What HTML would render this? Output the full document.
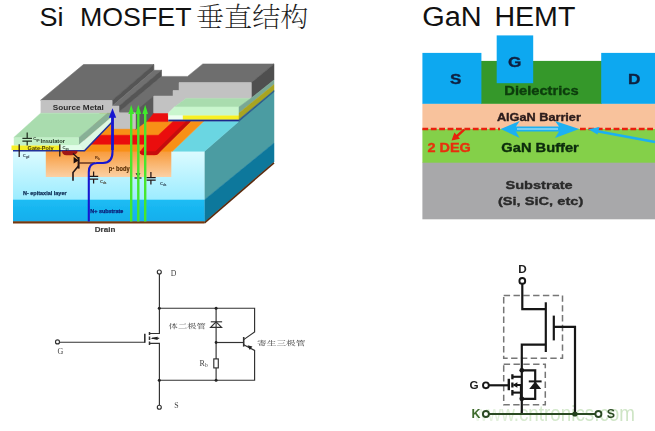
<!DOCTYPE html>
<html lang="zh">
<head>
<meta charset="utf-8">
<title>Si MOSFET vs GaN HEMT</title>
<style>
html,body{margin:0;padding:0;background:#fff;}
body{width:655px;height:431px;overflow:hidden;position:relative;font-family:"Liberation Sans","Noto Sans CJK SC",sans-serif;}
svg{position:absolute;left:0;top:0;display:block;}
.sans{font-family:"Liberation Sans","Noto Sans CJK SC",sans-serif;}
.b{font-weight:bold;}
.song{font-family:"Liberation Serif","Noto Serif CJK SC",serif;}
</style>
</head>
<body>
<svg width="655" height="431" viewBox="0 0 655 431">
<defs>
  <linearGradient id="gPbody" x1="0" y1="0" x2="0" y2="1">
    <stop offset="0" stop-color="#f89a3a"/>
    <stop offset="1" stop-color="#fbd0a4"/>
  </linearGradient>
  <linearGradient id="gEpi" x1="0" y1="0" x2="0" y2="1">
    <stop offset="0" stop-color="#dcfbff"/>
    <stop offset="1" stop-color="#9cecff"/>
  </linearGradient>
  <linearGradient id="gSub" x1="0" y1="0" x2="0" y2="1">
    <stop offset="0" stop-color="#1cbcf4"/>
    <stop offset="1" stop-color="#14aeec"/>
  </linearGradient>
  <linearGradient id="gWm" x1="474" y1="0" x2="635" y2="0" gradientUnits="userSpaceOnUse">
    <stop offset="0" stop-color="#eef6ea"/>
    <stop offset="0.3" stop-color="#d6eace"/>
    <stop offset="1" stop-color="#cde4c4"/>
  </linearGradient>
  <filter id="soft" x="-5%" y="-5%" width="110%" height="110%"><feGaussianBlur stdDeviation="0.35"/></filter>
</defs>

<!-- ================= TITLES ================= -->
<g class="sans" fill="#111" font-size="26.5">
  <text x="39.4" y="25.9" textLength="24" lengthAdjust="spacingAndGlyphs">Si</text>
  <text x="80" y="25.9" textLength="111.5" lengthAdjust="spacingAndGlyphs">MOSFET</text>
  <text x="196" y="27.3" class="song" font-size="27.5" font-weight="200" fill="#1c1c1c" textLength="112.5" lengthAdjust="spacingAndGlyphs">垂直结构</text>
  <text x="422.2" y="26" font-size="27" textLength="59.5" lengthAdjust="spacingAndGlyphs">GaN</text>
  <text x="494.4" y="26" font-size="27" textLength="81" lengthAdjust="spacingAndGlyphs">HEMT</text>
</g>

<!-- ================= 3D MOSFET STRUCTURE ================= -->
<g id="mos3d" filter="url(#soft)">
  <!-- right side faces of the block -->
  <polygon points="204.5,151.3 274,90.6 274,143 204.5,199.7" fill="#4c9ca2" stroke="#4c9ca2" stroke-width="0.5" stroke-linejoin="round"/>
  <polygon points="204.5,199.7 274,143 274,162 204.5,222" fill="#10789c" stroke="#10789c" stroke-width="0.5" stroke-linejoin="round"/>
  <line x1="204.5" y1="222.8" x2="274" y2="162.8" stroke="#5a2c10" stroke-width="1.6"/>

  <!-- front face -->
  <rect x="13" y="151" width="191.5" height="49" fill="url(#gEpi)"/>
  <rect x="13" y="199.7" width="191.5" height="22" fill="url(#gSub)"/>
  <rect x="13" y="221.3" width="191.5" height="2.2" fill="#74380f"/>
  <rect x="45.8" y="151" width="125.5" height="26" fill="url(#gPbody)"/>

  <!-- top surface: cyan + orange/red bands -->
  <polygon points="172.4,151.3 204.5,151.3 239,121.3 203.7,121.3" fill="#6ad6e2" stroke="#6ad6e2" stroke-width="0.5" stroke-linejoin="round"/>
  <polygon points="80,151.3 172.4,151.3 203.7,121.3 168,121.3 168,113 100,113" fill="#f89018" stroke="#f89018" stroke-width="0.5" stroke-linejoin="round"/>
  <!-- red L band -->
  <polygon points="84,135.2 158.3,135.2 173,121.5 190.2,121.5 160.7,150.6 158,153.8 155,154.9 143,154.9 140.6,153.8 139.8,152 146,144.3 84,144.3" fill="#ea1010" stroke="#ea1010" stroke-width="0.5" stroke-linejoin="round"/>
  <polygon points="186,121.5 190.4,121.5 160.7,150.8 157,154.4 153,154.6 156.4,150.6" fill="#c40a0a" stroke="#c40a0a" stroke-width="0.5" stroke-linejoin="round"/>
  <path d="M139.8,151.3 L160,151.3 L158,153.8 Q157,154.7 155,154.7 L143,154.7 Q140,154.7 139.8,152 Z" fill="#c80c0c"/>
  <!-- top red -->
  <polygon points="151.4,113 168,113 168,121.6 146,121.6" fill="#ea1010" stroke="#ea1010" stroke-width="0.5" stroke-linejoin="round"/>

  <!-- metal: lower surface + gate metal -->
  <polygon points="161.5,76.4 187.5,76.4 202.8,63.9 274,63.9 251.3,82.6 179,82.6 179,90.5 173,90.5 173,96 153.7,96 128,121 119,112" fill="#6e6e6e" stroke="#6e6e6e" stroke-width="0.5" stroke-linejoin="round"/>
  <polygon points="153.7,96 153.7,112.7 147.3,120.7 135.6,129.5 135.6,111.6" fill="#5a5a5a" stroke="#5a5a5a" stroke-width="0.5" stroke-linejoin="round"/>
  <!-- gate metal right side face -->
  <polygon points="251.3,82.6 274,63.9 274,80 251.3,98" fill="#505050" stroke="#505050" stroke-width="0.5" stroke-linejoin="round"/>
  <!-- light gray staircase front -->
  <polygon points="153.7,96 173,96 173,90.5 179,90.5 179,82.6 251.3,82.6 251.3,98.6 186,98.6 174.5,107 168.3,113 153.7,113" fill="#c2c2c2" stroke="#c2c2c2" stroke-width="0.5" stroke-linejoin="round"/>

  <!-- insulator 2 (right) -->
  <polygon points="186,98.4 251.3,98.4 239,106.9 174.5,106.9" fill="#a9dcae" stroke="#a9dcae" stroke-width="0.5" stroke-linejoin="round"/>
  <polygon points="174.5,106.9 239,106.9 239,115.6 168.3,115.6 168.3,113" fill="#c9f6cd" stroke="#c9f6cd" stroke-width="0.5" stroke-linejoin="round"/>
  <rect x="168.3" y="115.5" width="14.5" height="4.3" fill="#eefff0"/>
  <rect x="182.8" y="115.5" width="56.2" height="4.3" fill="#f8f020"/>
  <rect x="168.3" y="119.6" width="70.7" height="1.8" fill="#1c2c8c"/>
  <!-- side stripes of insulator 2 / poly -->
  <polygon points="239,106.9 251.3,98 274,80 274,84.6 239,113" fill="#7aa894" stroke="#7aa894" stroke-width="0.5" stroke-linejoin="round"/>
  <polygon points="239,113 274,84.6 274,90.6 239,119.6" fill="#a8a420" stroke="#a8a420" stroke-width="0.5" stroke-linejoin="round"/>
  <polygon points="239,119.4 274,90.4 274,91.8 239,121.4" fill="#2c5c8c" stroke="#2c5c8c" stroke-width="0.5" stroke-linejoin="round"/>

  <!-- source metal -->
  <polygon points="83.5,64.5 153.9,64.5 112.3,100.2 40.6,100.2" fill="#6c6c6c" stroke="#6c6c6c" stroke-width="0.6" stroke-linejoin="round"/>
  <polygon points="153.9,64.5 153.9,70.3 112.3,106 112.3,100.2" fill="#555" stroke="#555" stroke-width="0.6" stroke-linejoin="round"/>
  <polygon points="153.9,70.3 161.5,70.3 119,106 112.3,106" fill="#707070" stroke="#707070" stroke-width="0.6" stroke-linejoin="round"/>
  <polygon points="161.5,70.3 161.5,76.4 119,112 119,106" fill="#555" stroke="#555" stroke-width="0.6" stroke-linejoin="round"/>
  <!-- front faces of source metal + steps -->
  <rect x="40.6" y="100.2" width="71.7" height="13" fill="#c2c2c2"/>
  <polygon points="112.3,106 119,106 119,112.7 135.6,112.7 135.6,128.7 112.3,128.7" fill="#c2c2c2" stroke="#c2c2c2" stroke-width="0.5" stroke-linejoin="round"/>

  <!-- insulator 1 (left) -->
  <polygon points="40.6,113.2 107.5,113.2 78.9,137.5 13.8,137.5" fill="#a9dcae" stroke="#a9dcae" stroke-width="0.5" stroke-linejoin="round"/>
  <polygon points="78.9,137.5 107.5,113.2 112.3,113.2 112.3,116.6 78.9,145" fill="#88b096" stroke="#88b096" stroke-width="0.5" stroke-linejoin="round"/>
  <polygon points="78.9,145 112.3,116.6 112.3,121.5 84.5,150" fill="#dcf8e4" stroke="#dcf8e4" stroke-width="0.5" stroke-linejoin="round"/>
  <rect x="13.8" y="137.5" width="65.1" height="8.2" fill="#c2f0c8"/>
  <rect x="11.5" y="145.5" width="49" height="4.7" fill="#f6ee28"/>
  <polygon points="60.5,145.5 78.9,145.5 78.9,145 84.5,150.2 60.5,150.2" fill="#e2fdea" stroke="#e2fdea" stroke-width="0.5" stroke-linejoin="round"/>
  <polyline points="13,150.8 84.5,150.8 112.6,121.5" fill="none" stroke="#22309a" stroke-width="1.5"/>

  <!-- dark red N+ blob at channel -->
  <path d="M62,150.8 L77.6,150.8 Q77.4,155.2 71,155.2 L66.5,155.2 Q62,155.2 62,150.8Z" fill="#a01414"/>

  <!-- schematic overlay: transistor, caps -->
  <g stroke="#241616" stroke-width="1.25" fill="none">
    <path d="M59.8,144.2 V156.5"/>
    <path d="M78.6,157 V168.6" stroke-width="2"/>
    <path d="M78.4,158.6 L73,153.4" stroke-width="1.4"/>
    <path d="M78.6,163 H95" stroke="#4a1c14"/>
    <path d="M78.4,166 L73,172.5 V180.8" stroke-width="1.6"/>
    
    <!-- Cds 1 -->
    <path d="M93.6,171.4 V176.4 M89,176.4 H98.2 M89,179 H98.2 M93.6,179 V183.6"/>
    <!-- Cds 2 -->
    <path d="M150.9,172 V177.6 M146.5,177.6 H155.7 M146.5,180.2 H155.7 M150.9,180.2 V184.4"/>
    <path d="M134.5,178 H141.5"/>
    <!-- Cgs top -->
    <path d="M27.2,132.5 V138.3 M22.4,138.3 H32 M22.4,141 H32 M27.2,141 V145.5" stroke="#203020"/>
    <path d="M19.2,144.2 V157" />
  </g>
  <path d="M73.6,156.8 L78.6,160.4 L73.6,163.6 Z" fill="#1a1010"/>
  <path d="M135.5,173.3 L140.5,173.3 L138,177 Z" fill="#203020"/>

  <!-- green arrows -->
  <g stroke="#46e62e" stroke-width="2.4" fill="none">
    <path d="M131.2,221.5 V112 M138.3,221.5 V112 M145.2,221.5 V112"/>
  </g>
  <g fill="#3eea2c">
    <path d="M131.2,104.8 L134,114 L128.4,114Z"/>
    <path d="M138.3,104.8 L141.1,114 L135.5,114Z"/>
    <path d="M145.2,104.8 L148,114 L142.4,114Z"/>
  </g>
  <!-- blue current path -->
  <path d="M88.8,221.5 V172 Q88.8,163 97,163 H103 Q112.5,163 112.5,152 V116" fill="none" stroke="#1818d0" stroke-width="2.1"/>
  <path d="M112.5,150 V116" fill="none" stroke="#1818d0" stroke-width="2.7"/>
  <path d="M112.5,108.2 L116.2,117.8 L108.8,117.8Z" fill="#1818d0"/>

  <!-- labels -->
  <g class="sans b">
    <text x="52.8" y="110" font-size="7.4" fill="#2c2c2c" textLength="51" lengthAdjust="spacingAndGlyphs">Source Metal</text>
    <text x="40.6" y="143.2" font-size="5.3" fill="#1c2c1c" textLength="24.5" lengthAdjust="spacingAndGlyphs">Insulator</text>
    <text x="27.6" y="149.6" font-size="5.3" fill="#4a3c00" textLength="26" lengthAdjust="spacingAndGlyphs">Gate-Poly</text>
    <text x="33.2" y="140.2" font-size="4.2" fill="#1c2c1c">C<tspan font-size="3" dy="1">gs</tspan></text>
    <text x="62.5" y="148.5" font-size="4.2" fill="#1c2c1c">C<tspan font-size="3" dy="1">gs</tspan></text>
    <text x="22.7" y="157" font-size="4.2" fill="#1c2c3c">C<tspan font-size="3" dy="1">gd</tspan></text>
    <text x="100" y="182.5" font-size="4.2" fill="#3c2c1c">C<tspan font-size="3" dy="1">ds</tspan></text>
    <text x="160" y="184.5" font-size="4.2" fill="#1c2c3c">C<tspan font-size="3" dy="1">ds</tspan></text>
    <text x="95" y="158.5" font-size="4" fill="#5a2a0a">R<tspan font-size="3" dy="1">b</tspan></text>
    <text x="108.8" y="171" font-size="6.4" fill="#5c3208" stroke="#5c3208" stroke-width="0.2" textLength="20.8" lengthAdjust="spacingAndGlyphs">p<tspan font-size="4" dy="-2.2">+</tspan><tspan dy="2.2"> body</tspan></text>
    <text x="23" y="194.8" font-size="5.4" fill="#103058" stroke="#103058" stroke-width="0.25" textLength="43.6" lengthAdjust="spacingAndGlyphs">N- epitaxial layer</text>
    <text x="90.3" y="213.2" font-size="5.4" fill="#0c1c78" stroke="#0c1c78" stroke-width="0.25" textLength="33" lengthAdjust="spacingAndGlyphs">N+ substrate</text>
    <text x="94.8" y="232" font-size="7.5" fill="#404040" stroke="#404040" stroke-width="0.2" textLength="20.6" lengthAdjust="spacingAndGlyphs">Drain</text>
  </g>
</g>

<!-- ================= GaN HEMT cross-section ================= -->
<g id="hemt" filter="url(#soft)">
  <rect x="422.4" y="103.4" width="232.6" height="26" fill="#f8c29c"/>
  <rect x="422.4" y="129" width="232.6" height="34" fill="#84d048"/>
  <rect x="422.4" y="162.7" width="232.6" height="56.6" fill="#a8a8aa"/>
  <rect x="481" y="60.9" width="121" height="42.9" fill="#34982a"/>
  <rect x="422.4" y="52.9" width="59" height="50.9" fill="#10a8f0"/>
  <rect x="601.2" y="52.9" width="53.8" height="50.9" fill="#10a8f0"/>
  <rect x="496.7" y="35.4" width="36.5" height="47.8" fill="#10a8f0"/>
  <!-- 2DEG dashed line -->
  <line x1="422.4" y1="129" x2="500" y2="129" stroke="#e8200c" stroke-width="2.5" stroke-dasharray="5.8 2.6"/>
  <line x1="580" y1="129" x2="655" y2="129" stroke="#e8200c" stroke-width="2.5" stroke-dasharray="5.8 2.6"/>
  <!-- red small arrow -->
  <path d="M464.2,129.6 L456,137" stroke="#e8200c" stroke-width="2.4" fill="none"/>
  <path d="M451.6,140.4 L454.4,132.6 L460,138.8Z" fill="#e8200c"/>
  <!-- cyan double arrow -->
  <path d="M500.7,129 L519.7,121 L516,126.6 L559,126.6 L555,121 L579.2,129 L555,137.9 L559,131.6 L516,131.6 L519.7,137.9 Z" fill="#1cb0f2"/>
  <rect x="517" y="128.2" width="41" height="1.6" fill="#8fd8f4"/>
  <!-- second cyan arrow -->
  <path d="M596,131 L655,142" stroke="#1cb0f2" stroke-width="2.6" fill="none"/>
  <path d="M588.4,129.3 L599.5,127 L597.5,134.6Z" fill="#1cb0f2"/>
  <g class="sans b" stroke-width="0.35" stroke-linejoin="round">
    <text x="450" y="84" font-size="14.4" fill="#0c2040" stroke="#0c2040" textLength="11.4" lengthAdjust="spacingAndGlyphs">S</text>
    <text x="508" y="67.3" font-size="14.4" fill="#0c2040" stroke="#0c2040" textLength="13.4" lengthAdjust="spacingAndGlyphs">G</text>
    <text x="628" y="84" font-size="14.4" fill="#0c2040" stroke="#0c2040" textLength="12.4" lengthAdjust="spacingAndGlyphs">D</text>
    <text x="504.3" y="94.8" font-size="12.4" fill="#0c3c0c" stroke="#0c3c0c" textLength="74.4" lengthAdjust="spacingAndGlyphs">Dielectrics</text>
    <text x="496.9" y="121.4" font-size="10.2" fill="#2c1c1c" stroke="#2c1c1c" textLength="84" lengthAdjust="spacingAndGlyphs">AlGaN Barrier</text>
    <text x="427.5" y="152.2" font-size="12.2" fill="#e8300c" stroke="#e8300c" textLength="43.3" lengthAdjust="spacingAndGlyphs">2 DEG</text>
    <text x="501.3" y="152.2" font-size="12.2" fill="#0c2c0c" stroke="#0c2c0c" textLength="77.5" lengthAdjust="spacingAndGlyphs">GaN Buffer</text>
    <text x="505.5" y="188.9" font-size="11.7" fill="#2a2a2a" stroke="#2a2a2a" textLength="67.2" lengthAdjust="spacingAndGlyphs">Substrate</text>
    <text x="497.9" y="204.5" font-size="11.7" fill="#2a2a2a" stroke="#2a2a2a" textLength="85.4" lengthAdjust="spacingAndGlyphs">(Si, SiC, etc)</text>
  </g>
</g>

<!-- ================= left circuit ================= -->
<g id="cktL" filter="url(#soft)">
  <g stroke="#303030" stroke-width="1.15" fill="none">
    <path d="M159.4,274 V333.5 H149.5"/>
    <path d="M159.3,308.2 H254.6 V332 L243.7,339.6"/>
    <path d="M216.1,308.2 V358.9 M216.1,367.9 V380.2"/>
    <rect x="213.8" y="358.9" width="4.5" height="9"/>
    <path d="M210.8,321.8 H222.1"/>
    <path d="M216.1,321.8 L221.6,327.4 H210.6 Z"/>
    <path d="M216.1,342.5 H243.7"/>
    <path d="M243.7,337 V346.6" stroke-width="1.6"/>
    <path d="M243.7,344.8 L254.6,350.4 V380.2 H159.3"/>
    <path d="M152,338.3 H159.2"/>
    <path d="M149.5,343.3 H159.4 V405.2"/>
    
    <path d="M149.5,332 V334.9 M149.5,336.6 V340 M149.5,341.4 V344.9" stroke-width="1.5"/>
    <path d="M144.8,333.8 V342.8" stroke-width="1.6"/>
    <path d="M59.5,342.2 H144.8"/>
    <circle cx="159.3" cy="272" r="2" fill="#fff"/>
    <circle cx="159.3" cy="407.2" r="2" fill="#fff"/>
    <circle cx="57.5" cy="341.9" r="2" fill="#fff"/>
  </g>
  <g fill="#222">
    <circle cx="159.3" cy="308.2" r="1.5"/>
    <circle cx="216.1" cy="308.2" r="1.5"/>
    <circle cx="216.1" cy="342.5" r="1.4"/>
    <circle cx="216.1" cy="380.2" r="1.5"/>
    <circle cx="159.3" cy="380.2" r="1.5"/>
    <path d="M150.4,338.3 L157.6,336.7 L157.6,339.9Z"/>
    <path d="M247.5,345.3 L252.4,346.4 L249.8,349.9Z"/>
  </g>
  <g font-family='"Liberation Serif","Noto Serif CJK SC",serif' fill="#444">
    <text x="170.8" y="275.6" font-size="7.5" textLength="5.6" lengthAdjust="spacingAndGlyphs">D</text>
    <text x="174.2" y="408.2" font-size="7.5" textLength="4.4" lengthAdjust="spacingAndGlyphs">S</text>
    <text x="57.4" y="353.8" font-size="7.5" textLength="5.8" lengthAdjust="spacingAndGlyphs">G</text>
    <text x="199.6" y="365.6" font-size="8">R<tspan font-size="5.4" dy="1.4">b</tspan></text>
    <text x="168.6" y="328.2" font-size="6.1" textLength="37.3" lengthAdjust="spacingAndGlyphs">体二极管</text>
    <text x="257" y="345.2" font-size="6.1" textLength="48.5" lengthAdjust="spacingAndGlyphs">寄生三极管</text>
  </g>
</g>

<!-- ================= right circuit ================= -->
<g id="cktR" filter="url(#soft)">
  <!-- watermark -->
  <text x="474" y="421.4" class="sans" font-size="21.5" fill="url(#gWm)" textLength="161" lengthAdjust="spacingAndGlyphs">www.cntronics.com</text>
  <g stroke="#767676" stroke-width="1.5" fill="none" stroke-dasharray="6.4 3.4">
    <rect x="503.7" y="295.4" width="58.8" height="62.8"/>
    <rect x="503.7" y="364.3" width="41.6" height="40.5"/>
  </g>
  <g stroke="#161616" stroke-width="2.2" fill="none" stroke-linejoin="miter">
    <path d="M522.3,284 V309.2 H545.8"/>
    <path d="M545.8,302.3 V352"/>
    <path d="M545.8,344.6 H521.8 V414"/>
    <path d="M553.8,315.6 V340.4"/>
    <path d="M553.8,326.8 H575 V414"/>
    <!-- small mosfet -->
    <path d="M489,385.3 H508.5"/>
    <path d="M508.8,378.8 V390.2" stroke-width="2.4"/>
    <path d="M512.4,374.2 V379.2 M512.4,382.4 V387.6 M512.4,390 V395.6" stroke-width="2.3"/>
    <path d="M512.4,376.8 H521.8" stroke-width="2.1"/>
    <path d="M521.8,370.3 H535.2 V398.8 H521.8"/>
    <path d="M514,385 H520.9 V398" stroke-width="2"/>
    <path d="M512.4,392.6 H521.8" stroke-width="2.1"/>
    <path d="M528.8,381.4 H541.6" stroke-width="2"/>
  </g>
  <path d="M535.2,381.4 L541.2,389 H529.2Z" fill="#161616"/>
  <path d="M512.6,385 L517.4,382.2 V387.8Z" fill="#161616"/>
  <circle cx="521.8" cy="370.3" r="2.4" fill="#161616"/>
  <circle cx="521.8" cy="398.8" r="2.4" fill="#161616"/>
  <path d="M489,414 H595.4" stroke="#2c4a24" stroke-width="2.2" fill="none"/>
  <circle cx="574.9" cy="414" r="2.6" fill="#24401c"/>
  <g stroke="#161616" stroke-width="1.9" fill="#fff">
    <circle cx="522.3" cy="280.9" r="2.9"/>
    <circle cx="485.9" cy="385.3" r="2.9"/>
    <circle cx="485.9" cy="414" r="3" stroke="#2c4a24"/>
    <circle cx="598.4" cy="414" r="3" stroke="#2c4a24"/>
  </g>
  <g class="sans b" font-size="11.7" text-anchor="middle">
    <text x="522.4" y="273" fill="#1c1c1c">D</text>
    <text x="474" y="389" fill="#1c1c1c">G</text>
    <text x="476" y="418.4" font-size="12.4" fill="#3c6a2c">K</text>
    <text x="610.8" y="418.4" font-size="12.4" fill="#2c4a24">S</text>
  </g>
</g>
</svg>
</body>
</html>
